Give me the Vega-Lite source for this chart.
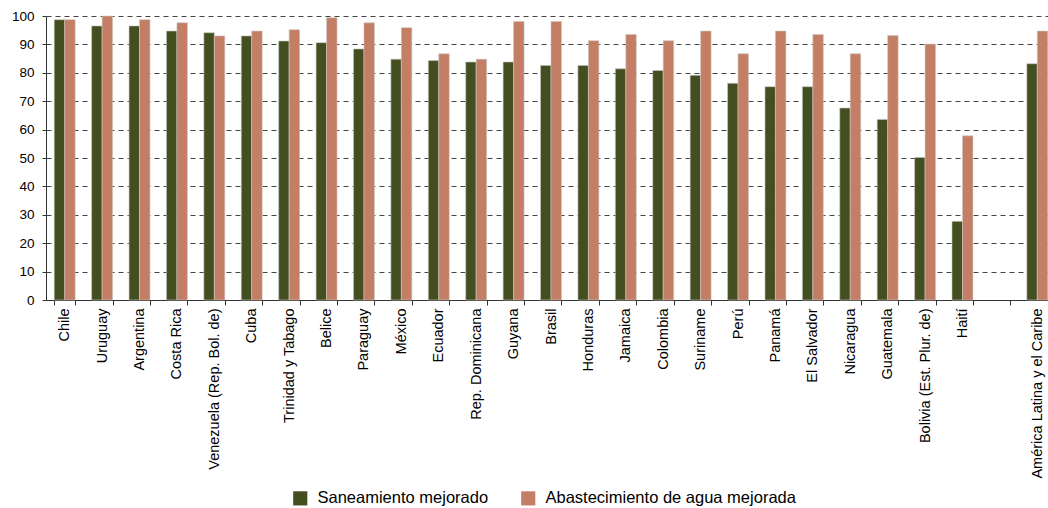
{
  "$schema": "https://vega.github.io/schema/vega-lite/v6.json",
  "width": 1010,
  "height": 284,
  "autosize": {"type": "none"},
  "padding": {"left": 46, "top": 16, "right": 0, "bottom": 208},
  "background": "white",
  "config": {
    "view": {"stroke": null},
    "font": "Liberation Sans"
  },
  "data": {
    "values": [
      {"pais": "Chile", "serie": "Saneamiento mejorado", "valor": 98.7},
      {"pais": "Chile", "serie": "Abastecimiento de agua mejorada", "valor": 98.7},
      {"pais": "Uruguay", "serie": "Saneamiento mejorado", "valor": 96.5},
      {"pais": "Uruguay", "serie": "Abastecimiento de agua mejorada", "valor": 100},
      {"pais": "Argentina", "serie": "Saneamiento mejorado", "valor": 96.5},
      {"pais": "Argentina", "serie": "Abastecimiento de agua mejorada", "valor": 98.7},
      {"pais": "Costa Rica", "serie": "Saneamiento mejorado", "valor": 94.7},
      {"pais": "Costa Rica", "serie": "Abastecimiento de agua mejorada", "valor": 97.6},
      {"pais": "Venezuela (Rep. Bol. de)", "serie": "Saneamiento mejorado", "valor": 94.1},
      {"pais": "Venezuela (Rep. Bol. de)", "serie": "Abastecimiento de agua mejorada", "valor": 93.0},
      {"pais": "Cuba", "serie": "Saneamiento mejorado", "valor": 93.0},
      {"pais": "Cuba", "serie": "Abastecimiento de agua mejorada", "valor": 94.7},
      {"pais": "Trinidad y Tabago", "serie": "Saneamiento mejorado", "valor": 91.2},
      {"pais": "Trinidad y Tabago", "serie": "Abastecimiento de agua mejorada", "valor": 95.2},
      {"pais": "Belice", "serie": "Saneamiento mejorado", "valor": 90.6},
      {"pais": "Belice", "serie": "Abastecimiento de agua mejorada", "valor": 99.4},
      {"pais": "Paraguay", "serie": "Saneamiento mejorado", "valor": 88.4},
      {"pais": "Paraguay", "serie": "Abastecimiento de agua mejorada", "valor": 97.6},
      {"pais": "México", "serie": "Saneamiento mejorado", "valor": 84.8},
      {"pais": "México", "serie": "Abastecimiento de agua mejorada", "valor": 95.9},
      {"pais": "Ecuador", "serie": "Saneamiento mejorado", "valor": 84.3},
      {"pais": "Ecuador", "serie": "Abastecimiento de agua mejorada", "valor": 86.7},
      {"pais": "Rep. Dominicana", "serie": "Saneamiento mejorado", "valor": 83.8},
      {"pais": "Rep. Dominicana", "serie": "Abastecimiento de agua mejorada", "valor": 84.8},
      {"pais": "Guyana", "serie": "Saneamiento mejorado", "valor": 83.8},
      {"pais": "Guyana", "serie": "Abastecimiento de agua mejorada", "valor": 98.1},
      {"pais": "Brasil", "serie": "Saneamiento mejorado", "valor": 82.6},
      {"pais": "Brasil", "serie": "Abastecimiento de agua mejorada", "valor": 98.1},
      {"pais": "Honduras", "serie": "Saneamiento mejorado", "valor": 82.6},
      {"pais": "Honduras", "serie": "Abastecimiento de agua mejorada", "valor": 91.3},
      {"pais": "Jamaica", "serie": "Saneamiento mejorado", "valor": 81.4},
      {"pais": "Jamaica", "serie": "Abastecimiento de agua mejorada", "valor": 93.5},
      {"pais": "Colombia", "serie": "Saneamiento mejorado", "valor": 80.8},
      {"pais": "Colombia", "serie": "Abastecimiento de agua mejorada", "valor": 91.3},
      {"pais": "Suriname", "serie": "Saneamiento mejorado", "valor": 79.1},
      {"pais": "Suriname", "serie": "Abastecimiento de agua mejorada", "valor": 94.7},
      {"pais": "Perú", "serie": "Saneamiento mejorado", "valor": 76.3},
      {"pais": "Perú", "serie": "Abastecimiento de agua mejorada", "valor": 86.7},
      {"pais": "Panamá", "serie": "Saneamiento mejorado", "valor": 75.1},
      {"pais": "Panamá", "serie": "Abastecimiento de agua mejorada", "valor": 94.7},
      {"pais": "El Salvador", "serie": "Saneamiento mejorado", "valor": 75.1},
      {"pais": "El Salvador", "serie": "Abastecimiento de agua mejorada", "valor": 93.5},
      {"pais": "Nicaragua", "serie": "Saneamiento mejorado", "valor": 67.6},
      {"pais": "Nicaragua", "serie": "Abastecimiento de agua mejorada", "valor": 86.7},
      {"pais": "Guatemala", "serie": "Saneamiento mejorado", "valor": 63.6},
      {"pais": "Guatemala", "serie": "Abastecimiento de agua mejorada", "valor": 93.1},
      {"pais": "Bolivia (Est. Plur. de)", "serie": "Saneamiento mejorado", "valor": 50.2},
      {"pais": "Bolivia (Est. Plur. de)", "serie": "Abastecimiento de agua mejorada", "valor": 90.1},
      {"pais": "Haití", "serie": "Saneamiento mejorado", "valor": 27.7},
      {"pais": "Haití", "serie": "Abastecimiento de agua mejorada", "valor": 57.8},
      {"pais": "América Latina y el Caribe", "serie": "Saneamiento mejorado", "valor": 83.2},
      {"pais": "América Latina y el Caribe", "serie": "Abastecimiento de agua mejorada", "valor": 94.7}
    ]
  },
  "mark": {"type": "bar", "stroke": "#c8c8c0", "strokeWidth": 0.6},
  "encoding": {
    "x": {
      "field": "pais",
      "type": "nominal",
      "sort": null,
      "scale": {
        "domain": ["Chile", "Uruguay", "Argentina", "Costa Rica", "Venezuela (Rep. Bol. de)", "Cuba", "Trinidad y Tabago", "Belice", "Paraguay", "México", "Ecuador", "Rep. Dominicana", "Guyana", "Brasil", "Honduras", "Jamaica", "Colombia", "Suriname", "Perú", "Panamá", "El Salvador", "Nicaragua", "Guatemala", "Bolivia (Est. Plur. de)", "Haití", " ", "América Latina y el Caribe"],
        "paddingInner": 0.44,
        "paddingOuter": 0.22
      },
      "axis": {
        "title": null,
        "labelAngle": -90,
        "labelAlign": "right",
        "labelBaseline": "middle",
        "labelFontSize": 14.5,
        "labelColor": "#000000",
        "labelPadding": 3,
        "tickSize": 5,
        "tickBand": "extent",
        "tickColor": "#333333",
        "domainColor": "#333333",
        "grid": false,
        "labelFont": "Liberation Sans"
      }
    },
    "xOffset": {
      "field": "serie",
      "type": "nominal",
      "sort": ["Saneamiento mejorado", "Abastecimiento de agua mejorada"],
      "scale": {"paddingInner": 0, "paddingOuter": 0}
    },
    "y": {
      "field": "valor",
      "type": "quantitative",
      "scale": {"domain": [0, 100], "nice": false},
      "axis": {
        "title": null,
        "values": [0, 10, 20, 30, 40, 50, 60, 70, 80, 90, 100],
        "labelFontSize": 13.5,
        "labelColor": "#000000",
        "labelPadding": 8,
        "tickSize": 4,
        "tickColor": "#333333",
        "domainColor": "#333333",
        "grid": true,
        "gridColor": "#444444",
        "gridDash": [5, 4],
        "gridWidth": 1,
        "labelFont": "Liberation Sans"
      }
    },
    "color": {
      "field": "serie",
      "type": "nominal",
      "sort": ["Saneamiento mejorado", "Abastecimiento de agua mejorada"],
      "scale": {
        "domain": ["Saneamiento mejorado", "Abastecimiento de agua mejorada"],
        "range": ["#434f21", "#c47e65"]
      },
      "legend": {
        "title": null,
        "orient": "none",
        "direction": "horizontal",
        "legendX": 246,
        "legendY": 474,
        "symbolType": "square",
        "symbolSize": 200,
        "symbolStrokeWidth": 0,
        "symbolOpacity": 1,
        "labelFontSize": 16.5,
        "labelColor": "#000000",
        "labelFont": "Liberation Sans",
        "labelOffset": 9,
        "columnPadding": 31,
        "padding": 0,
        "labelLimit": 400
      }
    }
  }
}
